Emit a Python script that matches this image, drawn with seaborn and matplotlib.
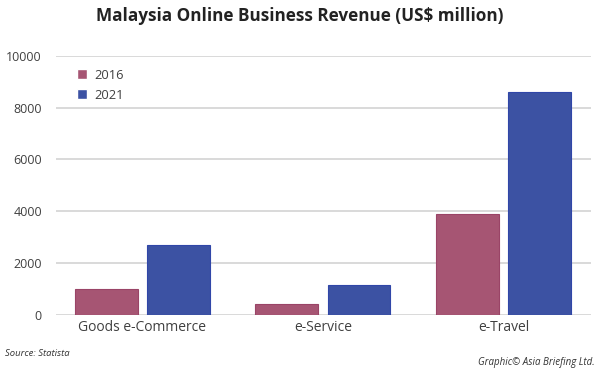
import matplotlib
matplotlib.use("Agg")
import matplotlib.pyplot as plt
import seaborn as sns
import pandas as pd

categories = ["Goods e-Commerce", "e-Service", "e-Travel"]
years = ["2016", "2021"]
values_2016 = [1000, 400, 3900]
values_2021 = [2700, 1150, 8600]
yticks = [0, 2000, 4000, 6000, 8000, 10000]

df = pd.DataFrame({
    "category": categories * 2,
    "year": [years[0]] * 3 + [years[1]] * 3,
    "value": values_2016 + values_2021,
})

sns.set_theme(style="white")
plt.rcParams["font.family"] = ["Open Sans", "DejaVu Sans"]

fig = plt.figure(figsize=(6, 3.8), dpi=100)
ax = fig.add_axes([0.093, 0.172, 0.892, 0.681])

palette = {"2016": "#A65573", "2021": "#3C52A3"}
sns.barplot(data=df, x="category", y="value", hue="year", palette=palette,
            width=0.8, gap=0.13, ax=ax, saturation=1, zorder=3)
edges = {"2016": "#9A4467", "2021": "#3046A8"}
for cont, yr in zip(ax.containers, years):
    for p in cont:
        p.set_edgecolor(edges[yr])
        p.set_linewidth(0.8)
        p.set_joinstyle("miter")

ax.set_ylim(0, 10000)
ax.set_xlim(-0.479, 2.485)
ax.set_yticks(yticks)
ax.set_yticklabels([str(v) for v in yticks])
ax.yaxis.grid(True, color="#D9D9D9", linewidth=1.4, zorder=0)
ax.set_axisbelow(True)
for s in ax.spines.values():
    s.set_visible(False)
ax.tick_params(axis="y", length=0, pad=10, labelsize=9, labelcolor="#404040")
ax.tick_params(axis="x", length=0, pad=4, labelsize=10, labelcolor="#404040")
ax.set_xlabel("")
ax.set_ylabel("")

leg = ax.legend(loc="upper left", bbox_to_anchor=(0.017, 0.995), frameon=False,
                fontsize=9.3, handlelength=0.8, handleheight=0.8,
                handletextpad=0.55, labelspacing=0.55)
for t in leg.get_texts():
    t.set_color("#404040")

fig.text(0.5, 0.958, "Malaysia Online Business Revenue (US$ million)",
         ha="center", va="center", fontsize=12.3, fontweight="bold", color="#222222")
fig.text(0.008, 0.071, "Source: Statista", ha="left", va="center",
         fontsize=6.8, style="italic", color="#333333")
fig.text(0.992, 0.045, "Graphic© Asia Briefing Ltd.", ha="right", va="center",
         fontsize=7, style="italic", color="#333333")

fig.savefig("out.png", dpi=100)
